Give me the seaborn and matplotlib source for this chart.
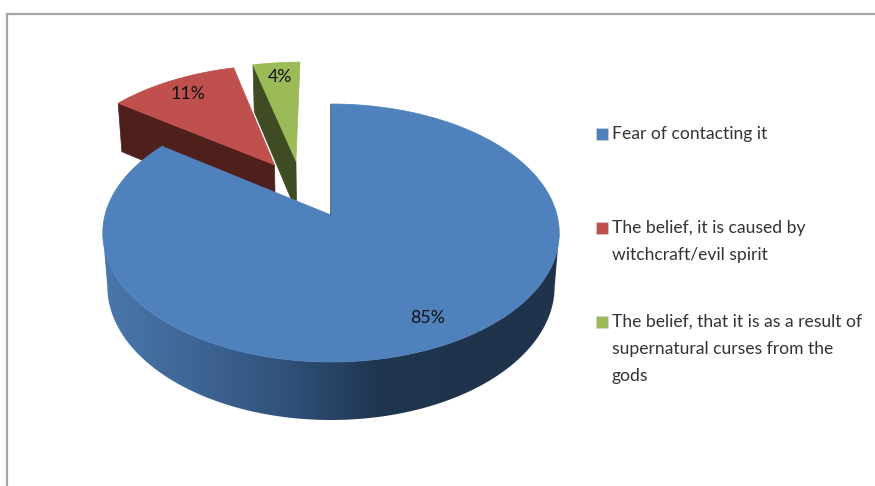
import numpy as np
import matplotlib
matplotlib.use("Agg")
from matplotlib import pyplot as plt
from matplotlib.patches import Polygon, Rectangle
import seaborn as sns

categories = [
    "Fear of contacting it",
    "The belief, it is caused by\nwitchcraft/evil spirit",
    "The belief, that it is as a result of\nsupernatural curses from the\ngods",
]
shares = [85, 11, 4]
share_labels = ["85%", "11%", "4%"]

top_colors = ["#4f81bd", "#c0504d", "#9bbb59"]
side_colors = ["#1f334d", "#4f1f1c", "#3f4b22"]
front_gradient = ["#4a78ad", "#3f6695", "#30517b", "#203650", "#1f334c", "#1f334c"]

# pulled out slices, in disc units (blue stays put)
offsets = [(0, 0), (-0.265, 0.42), (-0.165, 0.454)]
label_xy = [(428, 318), (188, 94), (280, 77)]
legend_y = [134, 228, 322]

# perspective of the disc, fitted to the pixel positions of the picture
APEX_X, APEX_Y = 331, 215
SCALE_X, SCALE_Y = 226, 126.5
TILT = 0.1395
DEPTH, SHRINK = 54, 0.02


def project(u, v, bottom=False):
    u, v = np.asarray(u, float), np.asarray(v, float)
    w = 1 + TILT * v + (SHRINK if bottom else 0)
    x = APEX_X + SCALE_X * u / w
    y = APEX_Y + (-SCALE_Y * v + (DEPTH if bottom else 0)) / w
    return np.column_stack([x, y])


def rim(a, b, n=120):
    # angles are clockwise from twelve o'clock
    t = np.radians(np.linspace(a, b, n))
    return np.sin(t), np.cos(t)


sns.set_theme(style="white")
plt.rcParams["font.family"] = ["Lato", "DejaVu Sans"]

fig = plt.figure(figsize=(8.75, 4.86), dpi=100)
ax = fig.add_axes([7 / 875, 0, 868 / 875, 472 / 486])
ax.set_xticks([])
ax.set_yticks([])
for side in ["right", "bottom"]:
    ax.spines[side].set_visible(False)
for side in ["left", "top"]:
    ax.spines[side].set_color("#a6a6a6")
    ax.spines[side].set_linewidth(1.6)

edges = np.cumsum([0] + shares) / sum(shares) * 360

# red and green first, they sit behind the blue slice
for i in [1, 2]:
    ox, oy = offsets[i]
    a, b = edges[i], edges[i + 1]
    cu, cv = np.sin(np.radians(a)) + ox, np.cos(np.radians(a)) + oy
    face = np.vstack([
        project([cu], [cv]),
        project([ox], [oy]),
        project([ox], [oy], bottom=True),
        project([cu], [cv], bottom=True),
    ])
    ax.add_patch(Polygon(face, closed=True, fc=side_colors[i], ec=side_colors[i], lw=0.5))
    u, v = rim(a, b)
    top = np.vstack([project([ox], [oy]), project(u + ox, v + oy)])
    ax.add_patch(Polygon(top, closed=True, fc=top_colors[i], ec=top_colors[i], lw=0.5))

# blue wall: a left to right gradient clipped to the outline of the rim
# 98 and 262 degrees are the widest points of the disc in this perspective
u, v = rim(98, 262, 241)
wall = Polygon(np.vstack([project(u, v), project(u, v, bottom=True)[::-1]]),
               closed=True, fc="none", ec="none")
ax.add_patch(wall)
palette = np.array(sns.blend_palette(front_gradient, 256))[:, :3]
shade = ax.imshow(palette[np.newaxis, :, :], extent=(100, 562, 430, 200),
                  aspect="auto", interpolation="bilinear")
shade.set_clip_path(wall)

u, v = rim(edges[0], edges[1], 400)
blue_top = np.vstack([project([0], [0]), project(u, v)])
ax.add_patch(Polygon(blue_top, closed=True, fc=top_colors[0], ec=top_colors[0], lw=0.5))
ax.plot([APEX_X - 1, APEX_X - 1], [APEX_Y, 104], color=side_colors[0], lw=0.6, alpha=0.7)

for txt, (x, y) in zip(share_labels, label_xy):
    ax.text(x, y, txt, ha="center", va="center", fontsize=12.8, color="#111111")

# legend by hand, the rows are evenly spaced whatever their height
for name, col, y in zip(categories, top_colors, legend_y):
    ax.add_patch(Rectangle((596, y - 6), 12, 12, fc=col, ec="#d5d5d5", lw=0.4))
    for n, line in enumerate(name.split("\n")):
        ax.text(612, y + 27 * n, line, ha="left", va="center", fontsize=12.6, color="#333333")

ax.set_xlim(7, 875)
ax.set_ylim(486, 14)

fig.savefig("out.png", dpi=100, facecolor="white")
